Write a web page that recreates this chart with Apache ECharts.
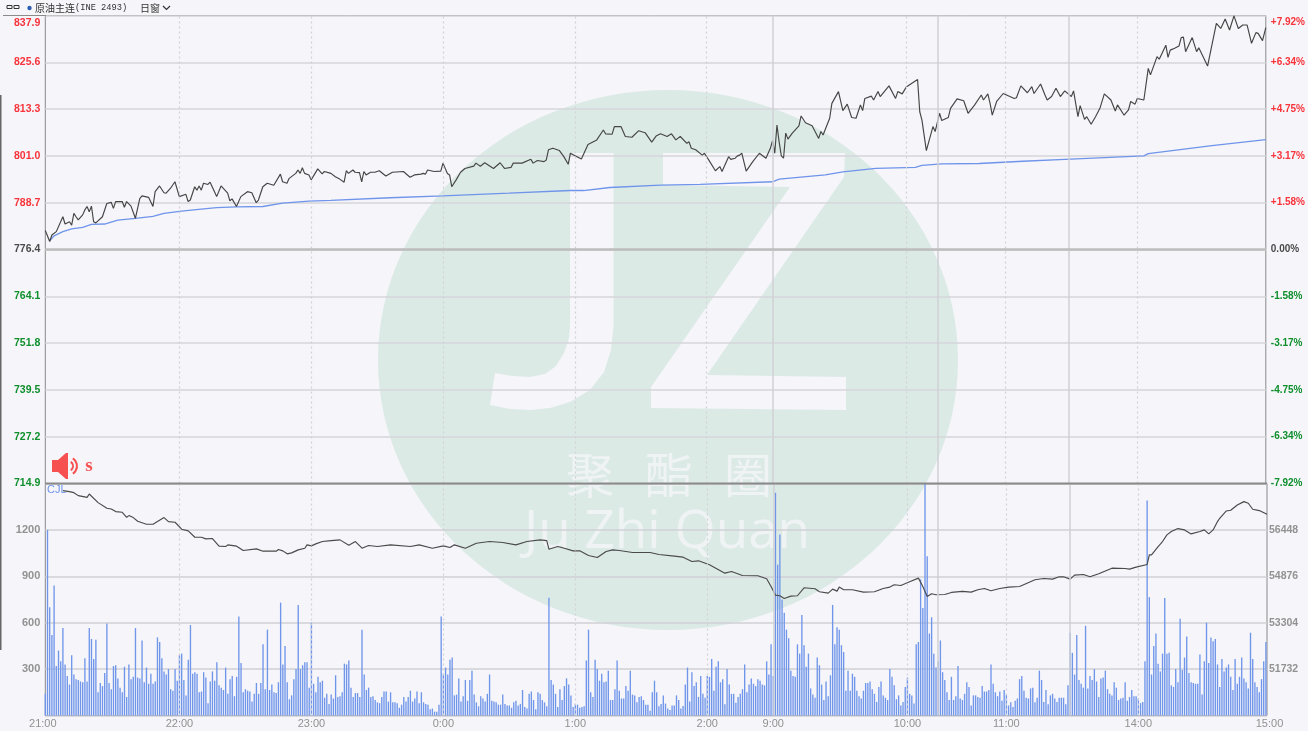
<!DOCTYPE html>
<html>
<head>
<meta charset="utf-8">
<style>html,body{margin:0;padding:0;background:#f5f5fa}#c{width:1308px;height:731px}</style>
<script src="https://cdn.jsdelivr.net/npm/echarts@6/dist/echarts.min.js"></script>
</head>
<body>
<div id="c"></div>
<script>
// minute index from 21:00 (trading minutes only), price
var tickMinutes = [-1,60,120,180,240,300,330,391,436,496,554.5];
var tickLabels = ['21:00','22:00','23:00','0:00','1:00','2:00','9:00','10:00','11:00','14:00','15:00'];
var dashedMinutes = [60,120,180,240,300,391,436,496];
var sessionBreaks = [330,405,465];

var pricePoints = [[-1,781.4],[1,778.5],[2,780.2],[4,781.1],[7,785.0],[8,783.1],[10,783.7],[11,782.8],[12,785.9],[13,785.0],[14,784.2],[16,785.5],[17,786.8],[18,787.7],[19,786.3],[20,787.8],[21,783.7],[22,783.4],[25,785.0],[27,788.5],[29,788.8],[30,787.2],[31,789.0],[34,789.0],[35,787.5],[36,789.0],[38,787.8],[40,784.6],[42,789.8],[43,790.5],[46,790.1],[48,787.7],[49,791.6],[51,793.1],[53,791.3],[54,791.2],[56,792.5],[58,794.2],[60,790.3],[63,790.9],[64,789.0],[65,789.4],[67,792.9],[68,792.0],[69,793.1],[70,792.0],[71,793.8],[73,793.5],[74,794.1],[77,790.3],[79,793.1],[82,791.2],[83,789.2],[84,789.7],[86,787.7],[88,790.3],[91,791.6],[93,791.3],[95,788.7],[96,789.4],[98,792.9],[100,793.8],[103,793.3],[106,796.2],[107,794.2],[109,793.8],[110,795.1],[113,796.4],[114,797.3],[115,796.4],[116,797.9],[117,796.4],[119,796.0],[120,794.7],[123,797.6],[125,796.3],[126,796.9],[129,796.4],
[131,795.5],[133,794.9],[135,794.1],[136,797.1],[137,796.4],[139,797.3],[140,796.7],[142,796.6],[143,794.2],[144,796.9],[145,796.0],[147,796.7],[149,796.7],[151,797.1],[154,795.7],[157,796.7],[162,796.9],[165,795.4],[167,796.0],[170,796.2],[171,796.4],[172,796.2],[173,797.3],[176,796.9],[179,797.0],[180,799.1],[182,796.4],[183,796.0],[184,792.9],[186,794.7],[188,796.7],[190,797.7],[194,798.3],[195,799.1],[197,798.3],[199,799.2],[203,797.7],[206,799.2],[208,797.7],[211,798.0],[212,799.1],[216,799.1],[220,800.1],[221,799.1],[223,799.8],[226,799.5],[227,799.9],[228,802.6],[230,803.0],[233,802.4],[235,800.8],[237,798.8],[238,801.7],[241,800.8],[243,800.2],[246,804.0],[250,805.2],[253,807.8],[254,806.8],[257,806.7],[258,808.7],[261,808.7],[263,806.1],[266,805.9],[269,807.6],[272,807.1],[275,804.6],[277,806.2],[279,806.8],
[282,806.1],[284,806.8],[286,805.2],[288,806.1],[291,804.3],[292,804.7],[293,803.0],[295,802.6],[298,801.2],[299,801.7],[301,799.9],[304,797.1],[306,798.2],[307,796.9],[310,800.8],[311,800.1],[313,800.4],[314,801.0],[315,801.2],[316,801.7],[318,797.0],[321,799.5],[324,801.7],[327,800.4],[329,803.0],[330,805.0],[331,801.7],[332,809.1],[333,804.7],[334,801.0],[335,800.4],[336,807.0],[337,805.4],[339,807.0],[342,808.9],[343,811.5],[345,809.7],[348,808.9],[351,805.6],[352,807.4],[353,806.5],[356,810.9],[357,814.8],[360,817.9],[362,812.9],[364,814.6],[366,811.1],[368,810.9],[370,814.4],[371,812.9],[372,816.1],[375,816.7],[376,815.7],[378,817.9],[379,816.6],[383,819.4],[386,816.1],[387,817.9],[389,817.3],[391,819.2],[396,821.1],[397,812.6],[398,810.4],[400,802.4],[403,808.7],[404,807.4],[406,812.2],[407,810.3],[410,811.1],[411,813.5],[414,816.0],[417,815.5],[419,812.2],[422,814.4],[425,817.0],[426,815.7],[428,817.3],[429,814.8],
[430,811.7],[432,815.3],[435,817.4],[440,816.1],[441,816.3],[443,819.4],[446,817.6],[448,819.2],[449,817.4],[452,819.9],[454,817.0],[455,815.7],[457,816.6],[459,818.8],[461,816.6],[463,818.1],[466,816.6],[467,818.1],[469,811.3],[470,814.2],[472,810.6],[473,811.3],[475,809.3],[477,811.3],[479,813.5],[481,817.3],[484,815.7],[486,812.8],[487,814.4],[490,811.7],[492,813.1],[493,815.3],[495,814.6],[496,816.1],[499,815.7],[501,824.0],[502,822.3],[505,827.1],[506,826.4],[509,830.1],[510,826.9],[511,828.8],[513,829.3],[515,829.9],[516,832.1],[517,832.2],[518,828.4],[521,832.1],[523,828.4],[524,829.4],[528,824.6],[532,835.8],[534,834.5],[536,837.0],[538,834.1],[540,837.8],[542,834.5],[544,835.4],[546,835.4],[548,830.6],[550,833.4],[551,833.2],[553,831.3],[554.5,834.7]];

var avgPoints = [[1,778.7],[3,780.0],[7,781.1],[11,781.8],[16,782.2],[20,783.0],[26,783.1],[32,784.1],[40,784.6],[48,785.1],[53,785.9],[61,786.5],[70,787.0],[77,787.4],[86,787.6],[98,787.7],[107,788.6],[119,789.1],[129,789.3],[156,790.0],[180,790.5],[210,791.2],[238,791.9],[244,791.9],[256,792.7],[279,793.3],[297,793.5],[330,794.2],[333,794.9],[354,796.0],[362,796.8],[377,797.7],[395,798.0],[398,798.5],[407,798.9],[424,799.0],[444,799.6],[463,800.1],[499,801.0],[501,801.6],[530,803.7],[554.5,805.3]];

var oiPoints = [[7,57778],[10,57744],[12,57710],[14,57609],[18,57552],[19,57665],[23,57372],[27,57181],[29,57158],[31,57068],[34,57045],[36,56876],[37,56933],[39,56865],[41,56741],[45,56640],[48,56640],[50,56730],[53,56865],[55,56730],[58,56707],[61,56471],[64,56414],[67,56200],[70,56200],[72,56144],[75,56155],[78,55896],[81,55884],[82,55941],[86,55896],[89,55749],[95,55806],[98,55727],[104,55727],[105,55783],[107,55738],[109,55637],[111,55670],[114,55772],[117,55828],[118,55941],[120,55907],[122,55975],[125,56054],[129,56087],[133,56110],[137,55930],[140,56054],[143,55828],[146,55918],[150,55884],[156,55941],[165,55884],[169,55941],[175,55828],[180,55907],[183,55851],[185,55941],[190,55828],[195,55997],[201,56054],[207,56020],[213,55941],[218,56054],[224,56110],[227,56087],[228,55794],[232,55884],[235,55828],[239,55738],[242,55738],[246,55580],[250,55513],[254,55715],[257,55772],[260,55749],[266,55682],[274,55682],[278,55614],
[285,55558],[289,55524],[293,55377],[296,55400],[301,55265],[308,54983],[311,55039],[316,54904],[323,54893],[327,54791],[329,54532],[331,54239],[333,54217],[335,54126],[338,54205],[341,54217],[344,54487],[349,54453],[351,54352],[355,54307],[357,54442],[359,54374],[360,54510],[362,54419],[366,54419],[371,54341],[376,54352],[380,54464],[383,54510],[385,54588],[388,54566],[392,54690],[396,54814],[398,54532],[400,54194],[402,54284],[404,54250],[408,54261],[411,54329],[416,54363],[420,54341],[423,54419],[426,54464],[429,54385],[433,54464],[437,54510],[442,54532],[449,54758],[453,54803],[457,54780],[460,54859],[462,54859],[465,54780],[467,54915],[471,54938],[474,54859],[478,54960],[484,55152],[490,55141],[492,55118],[495,55186],[500,55276],[501,55603],[502,55603],[505,55884],[507,56054],[509,56279],[511,56392],[514,56493],[517,56448],[520,56313],[524,56392],[526,56448],[528,56313],[530,56448],[532,56730],[533,56842],[536,57090],[538,57113],[541,57293],[544,57406],[546,57350],[548,57147],[551,57102],[554.5,56978]];

var volumeNight = [140,1200,700,520,840,320,420,350,565,330,255,200,390,265,235,230,220,215,370,220,565,495,365,490,150,210,190,275,595,210,170,320,325,240,180,150,315,120,330,235,250,565,245,240,485,215,310,205,270,205,220,505,475,370,285,265,300,170,160,300,225,390,400,230,130,360,585,270,280,270,150,155,280,245,80,220,285,225,345,195,180,165,310,140,235,255,125,250,640,340,150,170,160,155,90,140,210,140,210,460,170,555,165,200,150,145,215,730,330,450,215,105,130,235,300,715,300,325,345,345,180,600,205,150,250,215,225,115,140,75,
135,110,260,120,125,150,335,330,355,180,120,145,145,120,555,265,165,180,120,125,100,85,80,120,155,155,90,150,85,85,80,50,70,120,90,120,160,90,110,155,80,150,85,75,70,40,45,25,25,70,
640,270,310,265,360,375,130,135,240,90,125,230,95,230,290,135,85,60,125,110,90,140,265,95,90,85,70,70,135,75,65,65,50,85,95,65,75,165,55,45,140,155,100,40,150,140,100,85,60,762,
230,200,140,55,170,100,190,240,200,130,55,75,70,50,55,60,355,555,150,120,360,300,225,270,215,220,290,100,100,170,355,160,110,110,190,160,290,135,130,85,120,125,100,70,70,30,150,225,150,60,75,130,77,45,35,65,65,130,100,45,62,200,310,90,280,190,215,120,255,140,115,255,250,365,160,315,350,215,235,72];
var volumeDay = [300,200,140,140,83,120,140,170,330,150,200,240,205,190,235,225,200,195,350,265,460,255,1440,975,1170,750,665,555,500,290,255,250,460,400,650,455,315,400,175,135,115,375,325,200,100,220,125,260,715,460,570,555,455,410,160,290,160,270,250,160,125,110,160,210,210,220,170,140,88,185,220,130,115,100,300,250,195,105,130,65,88,185,245,140,130,77,460,475,880,695,1500,1030,530,635,400,310,350,485,280,230,150,100,250,100,125,320,110,100,140,215,185,65,130,130,120,115,190,155,155,
165,330,205,150,125,155,95,165,135,65,85,55,95,110,235,255,160,115,110,175,180,85,115,290,230,88,165,72,130,140,110,88,115,115,115,72,195,535,405,265,520,230,205,180,580,175,255,230,300,220,120,240,245,290,170,140,130,215,180,100,110,115,215,95,120,165,125,125,110,80,88,350,1390,765,265,450,530,335,285,400,760,400,405,195,185,300,215,625,295,375,510,275,215,210,205,205,395,135,350,600,340,505,480,495,330,185,365,285,310,330,250,165,365,205,250,375,240,215,175,535,365,215,185,150,235,350,475];

var volumes = volumeNight.concat(volumeDay);
var volumeStartMinute = -1;
var volData = volumes.map(function (v, i) { return [i + volumeStartMinute, v]; });

var RED = '#f8333a', GREEN = '#0e8f2c', DARK = '#4a4a4a', GRAY = '#929292';
var FONT = '"Liberation Sans", Arial, sans-serif';

function vLine(m, color, type, width) {
  return { xAxis: m, lineStyle: { color: color, type: type, width: width } };
}
var verticalMarks = dashedMinutes.map(function (m) { return vLine(m, '#d2d2d6', [2, 3], 1.2); })
  .concat(sessionBreaks.map(function (m) { return vLine(m, '#d0d0d4', 'solid', 1.5); }));

function xLabelText(v) {
  var k = tickMinutes.indexOf(v);
  if (k < 0) return '';
  if (k === 0) return '{first|' + tickLabels[k] + '}';
  if (k === tickLabels.length - 1) return '{last|' + tickLabels[k] + '}';
  return '{mid|' + tickLabels[k] + '}';
}
var xLabelStyle = { color: GRAY, fontFamily: FONT, fontSize: 11 };

var chart = echarts.init(document.getElementById('c'), null, { renderer: 'canvas' });
chart.setOption({
  animation: false,
  backgroundColor: '#f5f5fa',
  grid: [
    { left: 45.3, right: 41, top: 15.5, height: 468, show: true, borderColor: '#8a8a8a', borderWidth: 1, backgroundColor: 'transparent' },
    { left: 45.3, right: 41, top: 483.5, height: 232, show: true, borderColor: '#8a8a8a', borderWidth: 1, backgroundColor: 'transparent' }
  ],
  xAxis: [
    { type: 'value', gridIndex: 0, min: -1, max: 554.5, axisLine: { show: false }, axisTick: { show: false }, axisLabel: { show: false }, splitLine: { show: false } },
    { type: 'value', gridIndex: 1, min: -1, max: 554.5, axisLine: { show: false }, axisTick: { show: false }, splitLine: { show: false },
      axisLabel: { customValues: tickMinutes, color: GRAY, fontFamily: FONT, fontSize: 11, margin: 3, hideOverlap: false,
        formatter: xLabelText,
        rich: {
          mid: xLabelStyle,
          first: Object.assign({ padding: [0, 5, 0, 0] }, xLabelStyle),
          last: Object.assign({ padding: [0, 0, 0, 5] }, xLabelStyle)
        } } }
  ],
  yAxis: [
    { type: 'value', gridIndex: 0, position: 'left', min: 714.9, max: 837.9, interval: 12.3, axisLine: { show: false }, axisTick: { show: false },
      splitLine: { lineStyle: { color: '#d6d6da', width: 1.5 } },
      axisLabel: { margin: 5, padding: [2, 0, 0, 0], fontFamily: FONT, fontSize: 10.5, fontWeight: 'bold', verticalAlignMaxLabel: 'top',
        color: function (v) { return v > 777 ? RED : (v > 776 ? DARK : GREEN); },
        formatter: function (v) { return v.toFixed(1); } } },
    { type: 'value', gridIndex: 0, position: 'right', min: -7.92, max: 7.92, interval: 1.584, axisLine: { show: false }, axisTick: { show: false }, splitLine: { show: false },
      axisLabel: { margin: 5, padding: [2, 0, 0, 0], fontFamily: FONT, fontSize: 10, fontWeight: 'bold', verticalAlignMaxLabel: 'top',
        color: function (v) { return v > 0.01 ? RED : (v > -0.01 ? DARK : GREEN); },
        formatter: function (v) { var a = Math.abs(v) < 0.001 ? 0 : v; return (a > 0 ? '+' : '') + a.toFixed(2) + '%'; } } },
    { type: 'value', gridIndex: 1, position: 'left', min: 0, max: 1500, interval: 300, axisLine: { show: false }, axisTick: { show: false },
      splitLine: { lineStyle: { color: '#d0d0d4', width: 1.5 } },
      axisLabel: { margin: 5, padding: [2, 0, 0, 0], fontFamily: FONT, fontSize: 11, fontWeight: 'bold', color: GRAY,
        formatter: function (v) { return (v === 0 || v === 1500) ? '' : String(v); } } },
    { type: 'value', gridIndex: 1, position: 'right', min: 50160, max: 58020, interval: 1572, axisLine: { show: false }, axisTick: { show: false }, splitLine: { show: false },
      axisLabel: { margin: 2, padding: [2, 0, 0, 0], fontFamily: FONT, fontSize: 10.5, fontWeight: 'bold', color: GRAY,
        formatter: function (v) { return (v === 50160 || v === 58020) ? '' : String(v); } } }
  ],
  series: [
    { type: 'line', xAxisIndex: 0, yAxisIndex: 0, data: [], z: 1, silent: true, symbol: 'none',
      markLine: { silent: true, symbol: 'none', animation: false, label: { show: false }, data: verticalMarks.concat([{ yAxis: 776.4, lineStyle: { color: '#bdbdbd', type: 'solid', width: 2.5 } }]) } },
    { type: 'line', xAxisIndex: 1, yAxisIndex: 2, data: [], z: 1, silent: true, symbol: 'none',
      markLine: { silent: true, symbol: 'none', animation: false, label: { show: false }, data: verticalMarks } },
    { name: 'avg', type: 'line', xAxisIndex: 0, yAxisIndex: 0, data: avgPoints, symbol: 'none', z: 3, lineStyle: { color: '#6f94ea', width: 1.3 } },
    { name: 'price', type: 'line', xAxisIndex: 0, yAxisIndex: 0, data: pricePoints, symbol: 'none', z: 4, lineStyle: { color: '#454545', width: 1.15 } },
    { name: 'volume', type: 'bar', xAxisIndex: 1, yAxisIndex: 2, data: volData, barWidth: 1.35, z: 3, itemStyle: { color: '#7096ea' } },
    { name: 'oi', type: 'line', xAxisIndex: 1, yAxisIndex: 3, data: oiPoints, symbol: 'none', z: 4, lineStyle: { color: '#4a4a4a', width: 1.15 } }
  ],
  graphic: { elements: [
    { type: 'ellipse', z: -10, silent: true, shape: { cx: 668, cy: 360, rx: 290, ry: 270 }, style: { fill: '#dceae6' } },
    { type: 'polygon', z: -9, silent: true, shape: { points: [[613.5,326],[611,350],[604,372],[590,390],[570,402],[550,408],[530,410],[510,409],[490,405],[495,373],[512,376],[530,377],[545,374],[556,366],[564,353],[569,338],[570,326],[570,153],[613.5,153]] }, style: { fill: '#f5f5fa' } },
    { type: 'polygon', z: -9, silent: true, shape: { points: [[663,153],[845,153],[844,177],[707,375],[846,377],[846,410],[651,408],[651,387],[790,187],[663,185]] }, style: { fill: '#f5f5fa' } },
    { type: 'text', z: -9, silent: true, style: { text: '聚', x: 590, y: 475, align: 'center', verticalAlign: 'middle', fontFamily: '"Noto Sans CJK SC"', fontSize: 48, fill: '#eff3f4' } },
    { type: 'text', z: -9, silent: true, style: { text: '酯', x: 669, y: 475, align: 'center', verticalAlign: 'middle', fontFamily: '"Noto Sans CJK SC"', fontSize: 48, fill: '#eff3f4' } },
    { type: 'text', z: -9, silent: true, style: { text: '圈', x: 748, y: 475, align: 'center', verticalAlign: 'middle', fontFamily: '"Noto Sans CJK SC"', fontSize: 48, fill: '#eff3f4' } },
    { type: 'text', z: -9, silent: true, style: { text: 'Ju Zhi Quan', x: 667, y: 533, align: 'center', verticalAlign: 'middle', fontFamily: '"Open Sans"', fontSize: 53, fill: '#eff3f4' } },
    // header
    { type: 'rect', z: 50, silent: true, shape: { x: 7, y: 5.5, width: 5, height: 3 }, style: { fill: 'none', stroke: '#333', lineWidth: 1 } },
    { type: 'rect', z: 50, silent: true, shape: { x: 14, y: 5.5, width: 5, height: 3 }, style: { fill: 'none', stroke: '#333', lineWidth: 1 } },
    { type: 'circle', z: 50, silent: true, shape: { cx: 29.5, cy: 8, r: 2.2 }, style: { fill: '#2f5fb0' } },
    { type: 'text', z: 50, silent: true, style: { text: '原油主连', x: 35, y: 8, verticalAlign: 'middle', fontFamily: '"Noto Sans CJK SC"', fontSize: 10, fill: '#333' } },
    { type: 'text', z: 50, silent: true, style: { text: '(INE 2493)', x: 75, y: 8, verticalAlign: 'middle', fontFamily: '"Liberation Mono"', fontSize: 8.7, fill: '#333' } },
    { type: 'text', z: 50, silent: true, style: { text: '日窗', x: 140, y: 8, verticalAlign: 'middle', fontFamily: '"Noto Sans CJK SC"', fontSize: 10, fill: '#333' } },
    { type: 'polyline', z: 50, silent: true, shape: { points: [[163,6],[166.5,9.5],[170,6]] }, style: { fill: 'none', stroke: '#333', lineWidth: 1.2 } },
    { type: 'rect', z: 50, silent: true, shape: { x: 3, y: 15, width: 43, height: 1 }, style: { fill: '#8a8a8a' } },
    { type: 'rect', z: 50, silent: true, shape: { x: 0, y: 95, width: 1.5, height: 555 }, style: { fill: '#666' } },
    // divider
    { type: 'rect', z: 50, silent: true, shape: { x: 45, y: 482.5, width: 1222, height: 2 }, style: { fill: '#8a8a8a' } },
    { type: 'text', z: 50, silent: true, style: { text: 'CJL', x: 47, y: 490, verticalAlign: 'middle', fontFamily: FONT, fontSize: 11, fill: '#6f94ea' } },
    // speaker
    { type: 'polygon', z: 50, silent: true, shape: { points: [[52,460],[58,460],[66,453],[68,453],[68,479],[66,479],[58,472],[52,472]] }, style: { fill: '#f75050' } },
    { type: 'arc', z: 50, silent: true, shape: { cx: 68, cy: 466, r: 5, startAngle: -1, endAngle: 1 }, style: { stroke: '#f75050', fill: 'none', lineWidth: 2 } },
    { type: 'arc', z: 50, silent: true, shape: { cx: 68, cy: 466, r: 9, startAngle: -1, endAngle: 1 }, style: { stroke: '#f75050', fill: 'none', lineWidth: 2 } },
    { type: 'text', z: 50, silent: true, style: { text: 's', x: 89, y: 466, align: 'center', verticalAlign: 'middle', font: 'bold 19px "Liberation Serif"', fill: '#f75050' } }
  ] }
});
</script>
</body>
</html>
